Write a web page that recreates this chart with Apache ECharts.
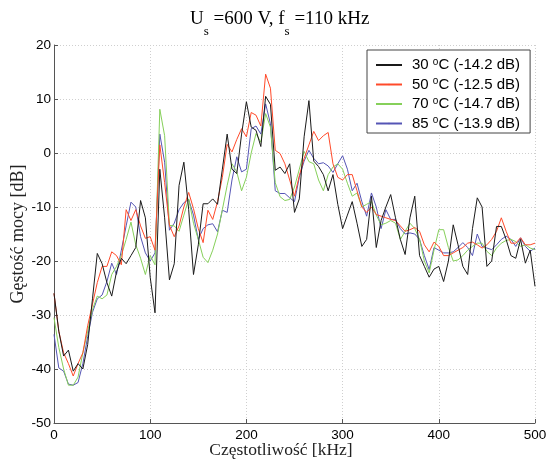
<!DOCTYPE html>
<html><head><meta charset="utf-8">
<script src="https://cdn.jsdelivr.net/npm/echarts@6/dist/echarts.min.js"></script>
<style>html,body{margin:0;padding:0;background:#fff}#c{width:548px;height:461px}</style>
</head><body><div id="c"></div>
<script>
const freqKHz = [0,5,10,15,20,25,30,35,40,45,50,55,60,65,70,75,80,85,90,95,
100,105,110,115,120,125,130,135,140,145,150,155,160,165,170,175,180,185,190,195,
200,205,210,215,220,225,230,235,240,245,250,255,260,265,270,275,280,285,290,295,
300,305,310,315,320,325,330,335,340,345,350,355,360,365,370,375,380,385,390,395,
400,405,410,415,420,425,430,435,440,445,450,455,460,465,470,475,480,485,490,495,500];

const temps = ['30','50','70','85'];
const dbValues = ['-14.2','-12.5','-14.7','-13.9'];

const s30 = [-26,-33,-37.6,-36.5,-40.4,-39,-40,-35.5,-27,-18.6,-20.5,-24,-26.5,-22,-19.5,-20.5,-19,-17.5,-8.8,-12,
-23,-29.6,-3,-12,-23.5,-20.5,-6,-1.7,-10.5,-22.5,-17,-9.4,-9.4,-8.5,-9.5,-3,3.5,-3,-3.8,3.5,
9.5,4.8,4.2,1.2,10.5,9,-3.2,-2.6,-3.8,-2,-11,-8.5,3,9.7,-1.5,-2.5,-4,-7,-4,-9.5,
-14,-11.5,-9,-13,-17.3,-16,-8,-17.5,-12.5,-10,-7.7,-12,-16,-18.8,-12,-8,-19,-21,-23,-21.5,
-21,-23.8,-20,-13.3,-17,-21,-22.5,-14,-8.3,-10,-21,-20,-13.6,-13.6,-16,-19,-19.5,-16,-20.4,-18,-24.7];

const s50 = [-26,-33,-37,-39,-41.3,-39,-37,-32,-28,-24,-21,-21,-18.3,-19,-20.7,-10.5,-12.5,-10.5,-13.5,-15.8,
-15.5,-18,1.5,-5.5,-13.4,-15.5,-13.5,-10,-7.3,-10.3,-14,-16.6,-10.6,-12.3,-9,-4.5,1.6,0.2,2.5,4.5,
3,7.5,7,5,14.6,12,0.5,-0.1,-2,-5,-8,-4.2,-1,1.5,4,2.3,3.2,3.8,-2,-4.5,
-5,-4,-4,-7,-10,-11,-10,-11.4,-11.7,-12,-12.3,-12.5,-13.5,-14.5,-14.2,-13.8,-14.5,-17,-18.3,-16.5,
-17.3,-19,-19,-18.5,-18,-17.5,-16.7,-16.5,-17,-17.6,-17,-16,-14.5,-12,-14.5,-16.7,-16.7,-15.7,-17,-17,-16.7];

const s70 = [-30.5,-36,-40,-43,-43,-41.5,-37,-33,-29,-26.5,-27,-26.3,-22.5,-21,-19,-16,-12.8,-17,-19.5,-22.5,
-19,-20.7,8.1,3.2,-13.4,-13.5,-14.5,-11.5,-8.5,-13,-16,-19.3,-20.3,-18,-15,-10.5,-6,-2,-3.5,-7,
-4.5,0,3.6,2,7.3,4.8,-5.5,-8.1,-8.8,-8.6,-6.3,-3,0.3,-1.6,-2,-5,-7,-4,-2.6,-2,
-3,-5.6,-8,-7.4,-10,-9.5,-9,-11.5,-13.3,-13,-12.5,-13,-16,-14.5,-13,-14,-16,-20,-22.2,-18,
-14.2,-14.2,-17.5,-20,-19.8,-19,-18,-17.3,-16.7,-16.7,-18.2,-19,-17.6,-16.7,-16.2,-16,-16.4,-17.3,-17,-17.6,-17.9];

const s85 = [-33.6,-39.8,-40.4,-42.8,-43,-42.5,-39,-34,-29.5,-27,-26.3,-23.8,-20.4,-22.5,-18,-13.5,-9.1,-10,-15.5,-18.5,
-20,-18.5,3.5,-1.7,-14.3,-13,-10.5,-9.2,-8.6,-11.5,-16,-14,-13.3,-13.1,-14.6,-10.6,-11,-5,-0.7,-3.5,
-3,4.5,5,3.5,9.1,5.4,-7,-7.5,-7.5,-8.3,-9,-4.5,-1.5,0.5,-1,-2,-1.8,-2.4,-3.6,-2,
-0.5,-3,-7,-5.6,-9,-11.7,-7.4,-10,-14,-10.5,-12.3,-12.3,-14,-15,-14.8,-15,-16,-19,-21.6,-17.5,
-18,-18.5,-18.5,-18.3,-17.5,-16.6,-17.5,-19,-15,-17.3,-17.6,-17.9,-17,-16,-15.4,-16,-17.3,-15.7,-17.3,-18.2,-17.6];

const xTicks = [0,100,200,300,400,500];
const yTicks = [-50,-40,-30,-20,-10,0,10,20];

const allSeries = [s30, s50, s70, s85];
const colors = ['#1a1a1a', '#ff4a2a', '#86d05a', '#5555b5'];

const chart = echarts.init(document.getElementById('c'), null, {renderer: 'canvas'});
const names = temps.map((t, i) => t + ' oC (' + dbValues[i] + ' dB)');

const option = {
  backgroundColor: '#fff',
  animation: false,
  title: {
    text: '{m|U}{s|s}{m| =600 V, f}{s|s}{m| =110 kHz}',
    left: 190, top: 10, padding: 0,
    textStyle: {
      fontWeight: 'normal',
      rich: {
        m: {fontFamily: 'Liberation Serif', fontWeight: 'normal', fontSize: 19, lineHeight: 22, verticalAlign: 'top', color: '#000'},
        s: {fontFamily: 'Liberation Serif', fontWeight: 'normal', fontSize: 13, lineHeight: 44, verticalAlign: 'middle', color: '#000'}
      }
    }
  },
  legend: {
    orient: 'vertical',
    left: 367, top: 50,
    padding: [7, 10, 2, 8],
    itemGap: 4,
    itemWidth: 26, itemHeight: 2,
    backgroundColor: '#fff',
    borderColor: '#444', borderWidth: 1,
    data: names,
    formatter: function (name) {
      const i = names.indexOf(name);
      return '{n|' + temps[i] + ' }{sup|o}{n|C (' + dbValues[i] + ' dB)}';
    },
    textStyle: {
      padding: [0, 0, 0, 5],
      rich: {
        n: {fontFamily: 'Liberation Sans', fontSize: 15, lineHeight: 16, color: '#000'},
        sup: {fontFamily: 'Liberation Sans', fontSize: 10, lineHeight: 7, verticalAlign: 'top', color: '#000'}
      }
    }
  },
  grid: {left: 54, right: 13, top: 45, bottom: 38, containLabel: false, outerBoundsMode: 'none'},
  xAxis: {
    type: 'value', min: xTicks[0], max: xTicks[xTicks.length - 1], interval: 100,
    name: 'Częstotliwość [kHz]', nameLocation: 'middle', nameGap: 18, nameMoveOverlap: false,
    nameTextStyle: {fontFamily: 'Liberation Serif', fontSize: 17.5, color: '#222', padding: [0, 27, 0, 0]},
    axisLine: {show: true, onZero: false, lineStyle: {color: '#555', width: 1}},
    axisTick: {show: true, inside: true, length: 4, lineStyle: {color: '#555'}},
    axisLabel: {fontFamily: 'Liberation Sans', fontSize: 13.5, color: '#000', margin: 5},
    splitLine: {show: true, lineStyle: {color: '#cfcfcf', type: [1, 2], width: 1}}
  },
  yAxis: {
    type: 'value', min: yTicks[0], max: yTicks[yTicks.length - 1], interval: 10,
    name: 'Gęstość mocy [dB]', nameLocation: 'middle', nameGap: 27, nameMoveOverlap: false,
    nameTextStyle: {fontFamily: 'Liberation Serif', fontSize: 18, color: '#222'},
    axisLine: {show: true, onZero: false, lineStyle: {color: '#555', width: 1}},
    axisTick: {show: true, inside: true, length: 4, lineStyle: {color: '#555'}},
    axisLabel: {fontFamily: 'Liberation Sans', fontSize: 13.5, color: '#000', margin: 3},
    splitLine: {show: true, lineStyle: {color: '#cfcfcf', type: [1, 2], width: 1}}
  },
  series: allSeries.map((arr, i) => ({
    name: names[i],
    type: 'line',
    data: freqKHz.map((f, j) => [f, arr[j]]),
    symbol: 'none',
    smooth: false,
    color: colors[i],
    lineStyle: {color: colors[i], width: 1},
    z: 10 - i
  }))
};
chart.setOption(option);
</script>
</body></html>
